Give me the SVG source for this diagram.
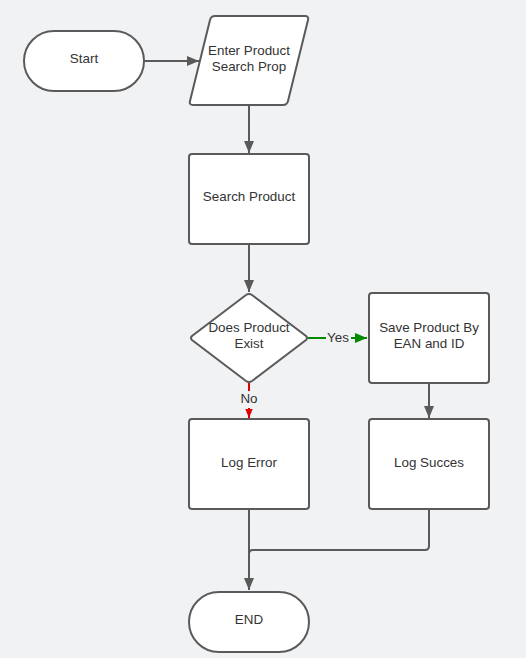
<svg xmlns="http://www.w3.org/2000/svg" width="526" height="658" viewBox="0 0 526 658">
<defs>
<style>
.n{fill:#fff;stroke:#5a5a5a;stroke-width:2}
.t{font-family:"Liberation Sans",Arial,sans-serif;font-size:13.4px;fill:#333;text-anchor:middle}
.c{fill:none;stroke:#5a5a5a;stroke-width:2}
</style>
<marker id="ag2" viewBox="0 0 12 10" refX="12" refY="5" markerWidth="12" markerHeight="10" markerUnits="userSpaceOnUse" orient="auto"><path d="M0,0L12,5L0,10z" fill="#5a5a5a"/></marker>
<marker id="agreen" viewBox="0 0 12 10" refX="12" refY="5" markerWidth="12" markerHeight="10" markerUnits="userSpaceOnUse" orient="auto"><path d="M0,0L12,5L0,10z" fill="#008a00"/></marker>
<marker id="ared" viewBox="0 0 12 10" refX="12" refY="5" markerWidth="9" markerHeight="8" markerUnits="userSpaceOnUse" orient="auto"><path d="M0,0L12,5L0,10z" fill="#e00000"/></marker>
</defs>
<rect width="526" height="658" fill="#f1f2f4"/>
<g id="connectors">
<path class="c" d="M144,61H199" marker-end="url(#ag2)"/>
<path class="c" d="M249,105V153" marker-end="url(#ag2)"/>
<path class="c" d="M249,244V292" marker-end="url(#ag2)"/>
<path d="M308,338H326 M351,338H367" fill="none" stroke="#008a00" stroke-width="2" marker-end="url(#agreen)"/>
<path d="M249,383V391 M249,408V418" fill="none" stroke="#e00000" stroke-width="2" marker-end="url(#ared)"/>
<path class="c" d="M429,383V418" marker-end="url(#ag2)"/>
<path class="c" d="M249,509V590" marker-end="url(#ag2)"/>
<path class="c" d="M429,509V546Q429,550 425,550H253Q249,550 249,554"/>
<text class="t" x="338" y="342">Yes</text>
<text class="t" x="249" y="403">No</text>
</g>
<g id="start"><rect class="n" x="24" y="31" width="120" height="60" rx="30"/><text class="t" x="84" y="63">Start</text></g>
<g id="enter"><path class="n" d="M215,16H305Q309,16 308,20L288,101Q287,105 283,105H193Q189,105 190,101L210,20Q211,16 215,16Z"/><text class="t" x="249" y="55">Enter Product</text><text class="t" x="249" y="71">Search Prop</text></g>
<g id="search"><rect class="n" x="189" y="154" width="120" height="90" rx="3"/><text class="t" x="249" y="201">Search Product</text></g>
<g id="decision"><path class="n" d="M246,295Q249,293 252,295L306,336Q308,338 306,340L252,381Q249,383 246,381L192,340Q190,338 192,336Z"/><text class="t" x="249" y="332">Does Product</text><text class="t" x="249" y="348">Exist</text></g>
<g id="save"><rect class="n" x="369" y="293" width="120" height="90" rx="3"/><text class="t" x="429" y="332">Save Product By</text><text class="t" x="429" y="348">EAN and ID</text></g>
<g id="logerror"><rect class="n" x="189" y="419" width="120" height="90" rx="3"/><text class="t" x="249" y="467">Log Error</text></g>
<g id="logsucces"><rect class="n" x="369" y="419" width="120" height="90" rx="3"/><text class="t" x="429" y="467">Log Succes</text></g>
<g id="end"><rect class="n" x="189" y="592" width="120" height="60" rx="30"/><text class="t" x="249" y="624">END</text></g>
</svg>
